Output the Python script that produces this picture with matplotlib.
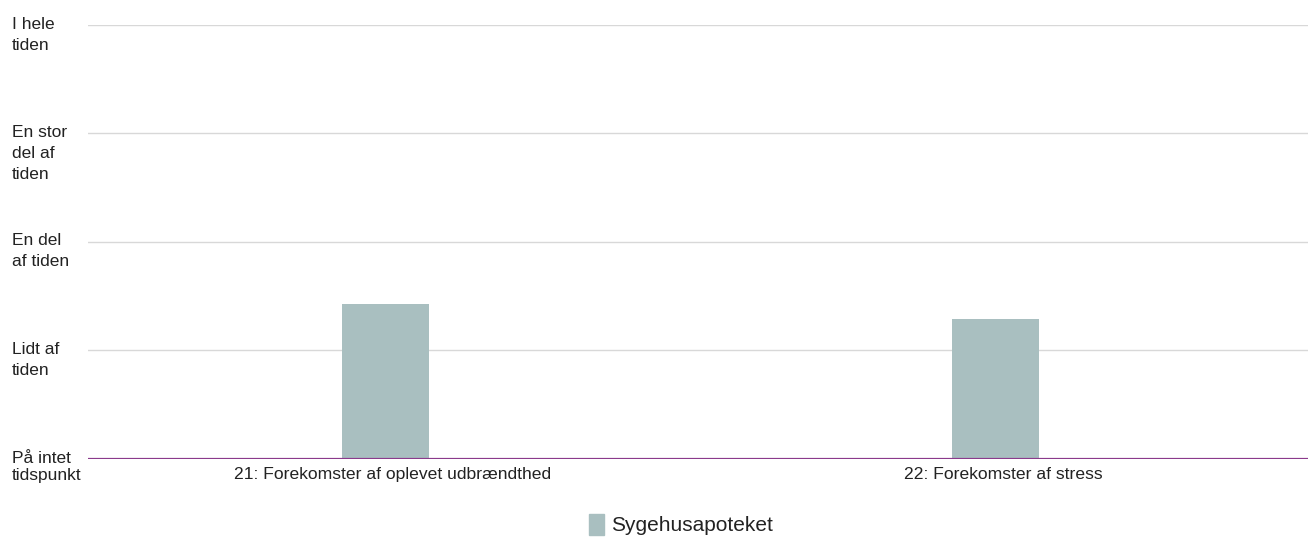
import matplotlib.pyplot as plt
from matplotlib.patches import Patch

categories = ['21: Forekomster af oplevet udbrændthed', '22: Forekomster af stress']
values = [2.43, 2.29]
series_name = 'Sygehusapoteket'
y_levels = [1, 2, 3, 4, 5]
y_labels = ['På intet\ntidspunkt', 'Lidt af\ntiden', 'En del\naf tiden',
            'En stor\ndel af\ntiden', 'I hele\ntiden']

bar_color = '#a9bfc0'
base_color = '#8b3a8c'
grid_color = '#d8d8d8'
text_color = '#222222'

plt.rcParams['font.family'] = ['Liberation Sans', 'DejaVu Sans']

W, H = 1308, 539
fig = plt.figure(figsize=(W / 100, H / 100), dpi=100)
ax = fig.add_axes([88 / W, 80.5 / H, 1220 / W, 433.5 / H])

x = list(range(len(categories)))
ax.bar([i - 0.012 for i in x], values, width=0.143, color=bar_color, zorder=2)

ax.set_xlim(-0.5, len(categories) - 0.5)
ax.set_ylim(1, 5)

for v in y_levels[1:]:
    ax.axhline(v, color=grid_color, lw=1.0, zorder=1)
ax.axhline(1, color=base_color, lw=1.6, zorder=3)

for s in ax.spines.values():
    s.set_visible(False)
ax.set_yticks([])
ax.set_xticks(x)
ax.set_xticklabels(categories, fontsize=12.6, color=text_color)
ax.tick_params(axis='x', length=0, pad=6)

for v, lab in zip(y_levels, y_labels):
    if v == 1:
        off, ls = 5.5, 1.15
    else:
        off, ls = 6, 1.5
    ax.annotate(lab, xy=(-76 / 1220, v), xycoords=ax.get_yaxis_transform(),
                xytext=(0, off), textcoords='offset points',
                ha='left', va='top', fontsize=12.5, color=text_color,
                linespacing=ls, annotation_clip=False)

fig.legend(handles=[Patch(color=bar_color, label=series_name)],
           loc='center', bbox_to_anchor=(681 / W, 1 - 524.5 / H),
           frameon=False, fontsize=15, handlelength=0.75, handleheight=1.2,
           handletextpad=0.35, labelcolor=text_color)

fig.savefig('out.png', dpi=100)
